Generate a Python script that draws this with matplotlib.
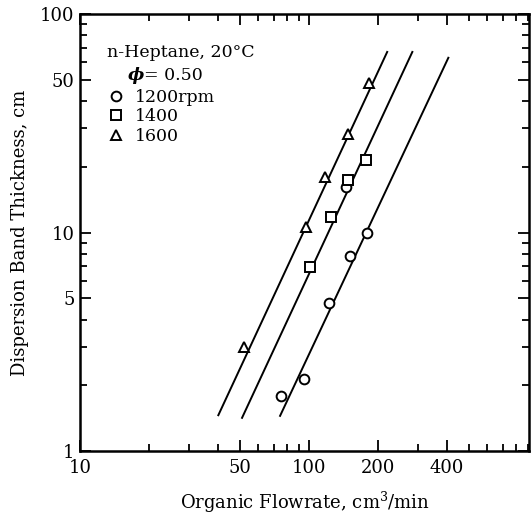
import matplotlib
matplotlib.use('Agg')
import matplotlib.pyplot as plt
import numpy as np

plt.rcParams['font.family'] = ['DejaVu Serif']
plt.rcParams['mathtext.fontset'] = 'dejavuserif'

# measured points, n-heptane, phi = 0.50
q_1200 = [75.5, 95, 122, 145, 150, 179]
h_1200 = [1.79, 2.14, 4.75, 16.1, 7.8, 9.95]
q_1400 = [101, 124.7, 148, 177.5]
h_1400 = [6.95, 11.8, 17.4, 21.5]
q_1600 = [52, 97, 117.5, 148, 183]
h_1600 = [2.99, 10.6, 17.9, 28.3, 48.3]

# correlation lines (end points)
fit_q_1200 = [74.6, 405]
fit_h_1200 = [1.45, 63]
fit_q_1400 = [50.9, 282]
fit_h_1400 = [1.42, 67]
fit_q_1600 = [40.1, 219]
fit_h_1600 = [1.46, 67]

xticks = [10, 50, 100, 200, 400]
yticks = [1, 5, 10, 50, 100]

fig = plt.figure(figsize=(5.31, 5.15), dpi=100)
ax = fig.add_axes([0.151, 0.124, 0.845, 0.849])

for q, h in [(fit_q_1200, fit_h_1200), (fit_q_1400, fit_h_1400), (fit_q_1600, fit_h_1600)]:
    ax.plot(q, h, color='black', lw=1.4)

mk = dict(ls='none', mfc='white', mec='black', mew=1.4, ms=7)
p1, = ax.plot(q_1200, h_1200, marker='o', **mk)
p2, = ax.plot(q_1400, h_1400, marker='s', **mk)
p3, = ax.plot(q_1600, h_1600, marker='^', **mk)

ax.set_xscale('log')
ax.set_yscale('log')
ax.set_xlim(10, 910)
ax.set_ylim(1, 100)
ax.set_xticks(xticks)
ax.set_xticklabels([str(t) for t in xticks])
ax.set_yticks(yticks)
ax.set_yticklabels([str(t) for t in yticks])

ax.tick_params(which='both', direction='in', top=True, right=True, labelsize=13, width=1.3)
ax.tick_params(which='major', length=8, pad=4)
ax.tick_params(axis='x', which='major', pad=6)
ax.tick_params(which='minor', length=5)
for s in ax.spines.values():
    s.set_linewidth(1.8)

ax.set_xlabel('Organic Flowrate, cm$^3$/min', fontsize=13, labelpad=9)
ax.set_ylabel('Dispersion Band Thickness, cm', fontsize=13, labelpad=8)

ax.text(0.06, 0.911, 'n-Heptane, 20°C', transform=ax.transAxes, fontsize=12.5, va='center')
ax.text(0.107, 0.860, 'ϕ', transform=ax.transAxes, fontsize=12.5, va='center',
        fontweight='bold', fontstyle='italic')
ax.text(0.143, 0.860, '= 0.50', transform=ax.transAxes, fontsize=12.5, va='center')

ax.legend([p1, p2, p3], ['1200rpm', '1400', '1600'], loc='upper left',
          bbox_to_anchor=(0.045, 0.845), frameon=False, fontsize=12.5,
          handlelength=1.0, handletextpad=0.6, labelspacing=0.15, borderaxespad=0)

fig.savefig('out.png', dpi=100)
